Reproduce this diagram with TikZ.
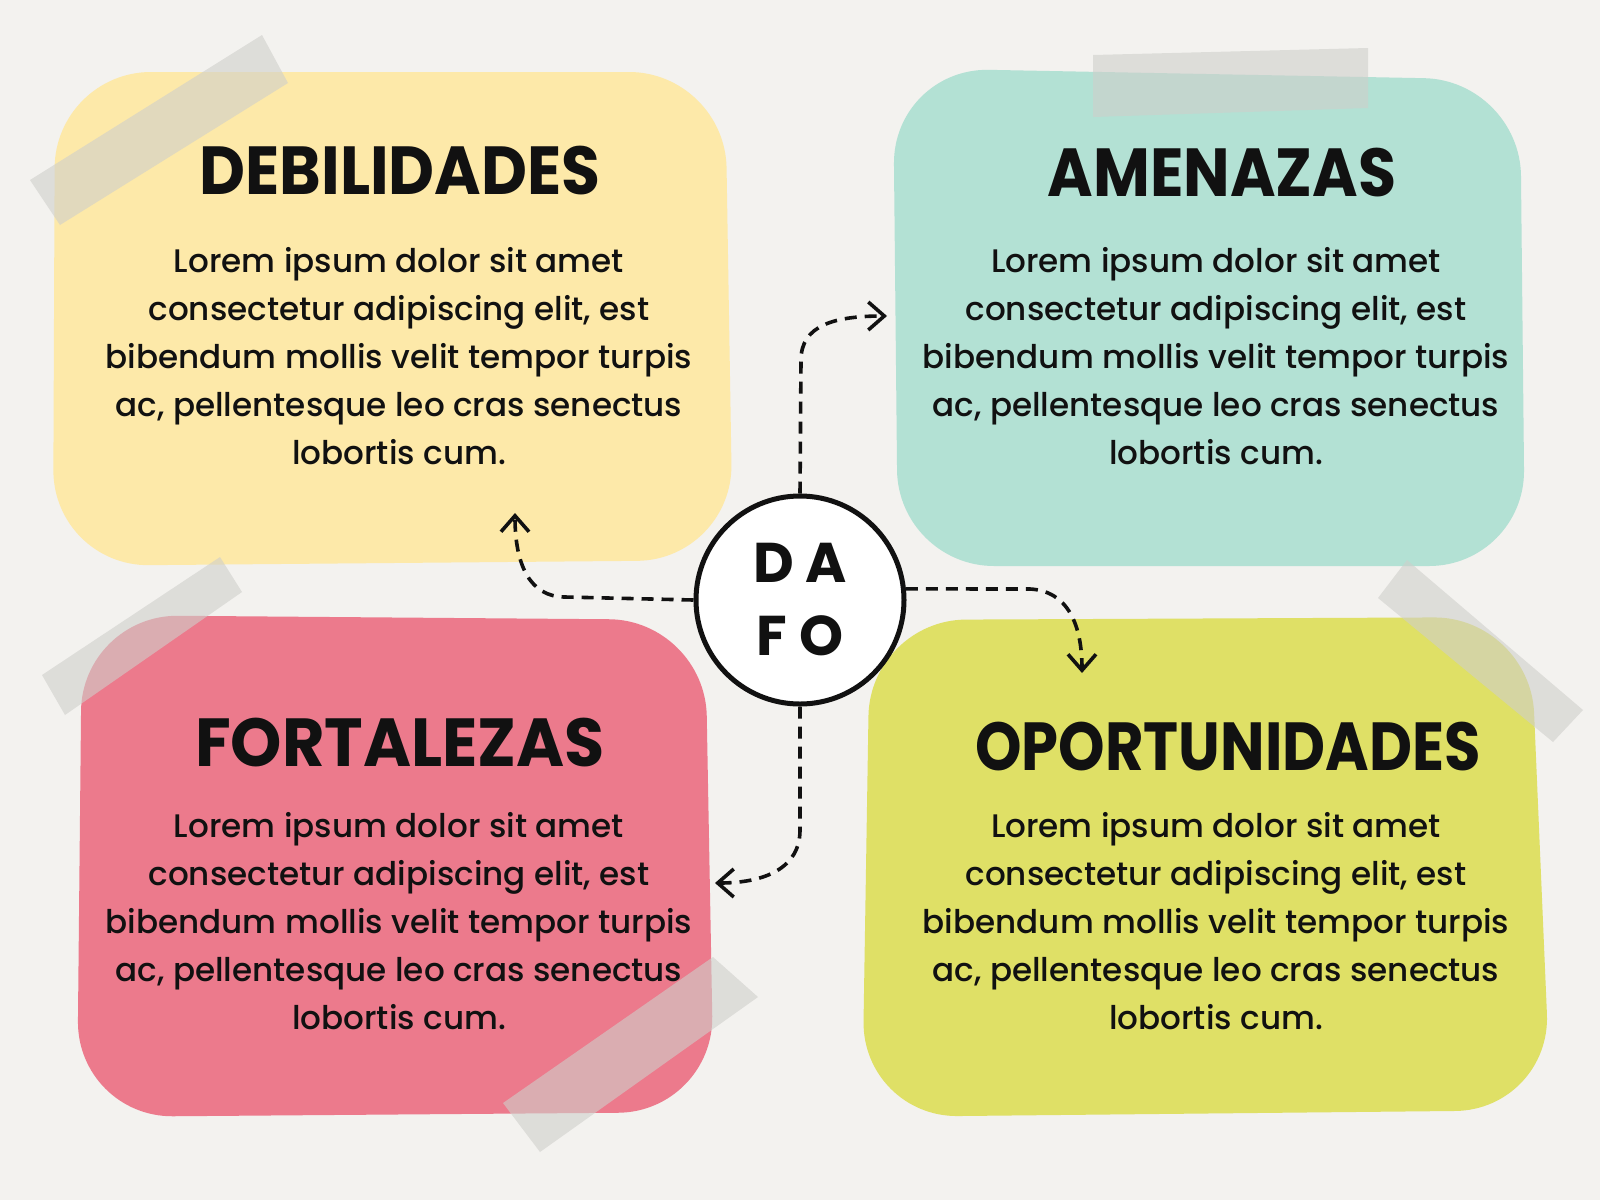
\documentclass[tikz,border=0pt]{standalone}
\usepackage{fontspec}
\setmainfont{Poppins}[UprightFont=* Medium, BoldFont=* Bold]
\usetikzlibrary{arrows.meta}
\definecolor{bgc}{HTML}{F3F2EF}
\definecolor{yel}{HTML}{FDE9A9}
\definecolor{tea}{HTML}{B3E1D4}
\definecolor{pnk}{HTML}{EC7A8C}
\definecolor{lim}{HTML}{DFE066}
\definecolor{tapec}{HTML}{CFCFCB}
\definecolor{ink}{HTML}{111111}
\begin{document}
\begin{tikzpicture}[x=0.5pt,y=-0.5pt,
  blob/.style={rounded corners=48pt},
  tape/.style={fill=tapec, fill opacity=0.6},
  title/.style={font=\bfseries\fontsize{34}{40}\selectfont, text=ink, inner sep=0pt},
  body/.style={font=\fontsize{16.3}{24}\selectfont, align=center, text=ink, inner sep=0pt},
  link/.style={draw=ink, line width=1.8pt, dash pattern=on 6pt off 4pt,
    -{Straight Barb[length=8pt,width=14pt,line width=1.8pt]}},
  hub/.style={circle, draw=ink, line width=2.5pt, fill=white, minimum size=104pt,
    inner sep=0pt, align=center, font=\bfseries\fontsize{28}{36.5}\selectfont, text=ink}
]
\fill[bgc] (0,0) rectangle (1600,1200);
\useasboundingbox (0,0) rectangle (1600,1200);

% blobs
\fill[yel, blob] (55,72) -- (725,72) -- (733,560) -- (53,566) -- cycle;
\fill[tea, blob] (893,68) -- (1520,80) -- (1525,566) -- (898,566) -- cycle;
\fill[pnk, blob] (82,615) -- (705,620) -- (714,1112) -- (77,1117) -- cycle;
\fill[lim, blob] (870,620) -- (1530,617) -- (1551,1110) -- (862,1117) -- cycle;

% tapes
\fill[tape] (30,180) -- (60,225) -- (288,83) -- (262,35) -- cycle;
\fill[tape] (1093,55) -- (1368,48) -- (1368,108) -- (1093,117) -- cycle;
\fill[tape] (1407,560) -- (1378,598) -- (1553,742) -- (1583,710) -- cycle;
\fill[tape] (220,557) -- (242,592) -- (65,715) -- (42,675) -- cycle;
\fill[tape] (713,957) -- (758,997) -- (540,1152) -- (503,1103) -- cycle;

% titles
\node[title] (tD) at (400,171) {\scalebox{0.93}[1]{DEBILIDADES}};
\node[title] (tA) at (1222,173) {\scalebox{0.91}[1]{AMENAZAS}};
\node[title] (tF) at (400,743) {\scalebox{0.96}[1]{FORTALEZAS}};
\node[title] (tO) at (1228,747) {\scalebox{0.87}[1]{OPORTUNIDADES}};

% bodies
\node[body] (bD) at (399,356) {Lorem ipsum dolor sit amet\\consectetur adipiscing elit, est\\bibendum mollis velit tempor turpis\\ac, pellentesque leo cras senectus\\lobortis cum.};
\node[body] (bA) at (1216,356) {Lorem ipsum dolor sit amet\\consectetur adipiscing elit, est\\bibendum mollis velit tempor turpis\\ac, pellentesque leo cras senectus\\lobortis cum.};
\node[body] (bF) at (399,921) {Lorem ipsum dolor sit amet\\consectetur adipiscing elit, est\\bibendum mollis velit tempor turpis\\ac, pellentesque leo cras senectus\\lobortis cum.};
\node[body] (bO) at (1216,921) {Lorem ipsum dolor sit amet\\consectetur adipiscing elit, est\\bibendum mollis velit tempor turpis\\ac, pellentesque leo cras senectus\\lobortis cum.};

% hub
\node[hub] (dafo) at (800,600) {D\hspace{6pt}A\\F\hspace{6pt}O};

% arrow ends
\coordinate (eA) at (887,316);
\coordinate (eD) at (515,513);
\coordinate (eO) at (1082,673);
\coordinate (eF) at (715,883);

\draw[link] (dafo.north) -- (801,360) .. controls (801,325) and (835,316) .. (eA);
\draw[link] (dafo.west) -- (565,597) .. controls (530,597) and (515,565) .. (eD);
\draw[link] (dafo.6) -- (1030,589) .. controls (1068,591) and (1082,625) .. (eO);
\draw[link] (dafo.south) -- (800,830) .. controls (800,868) and (765,883) .. (eF);
\end{tikzpicture}
\end{document}
